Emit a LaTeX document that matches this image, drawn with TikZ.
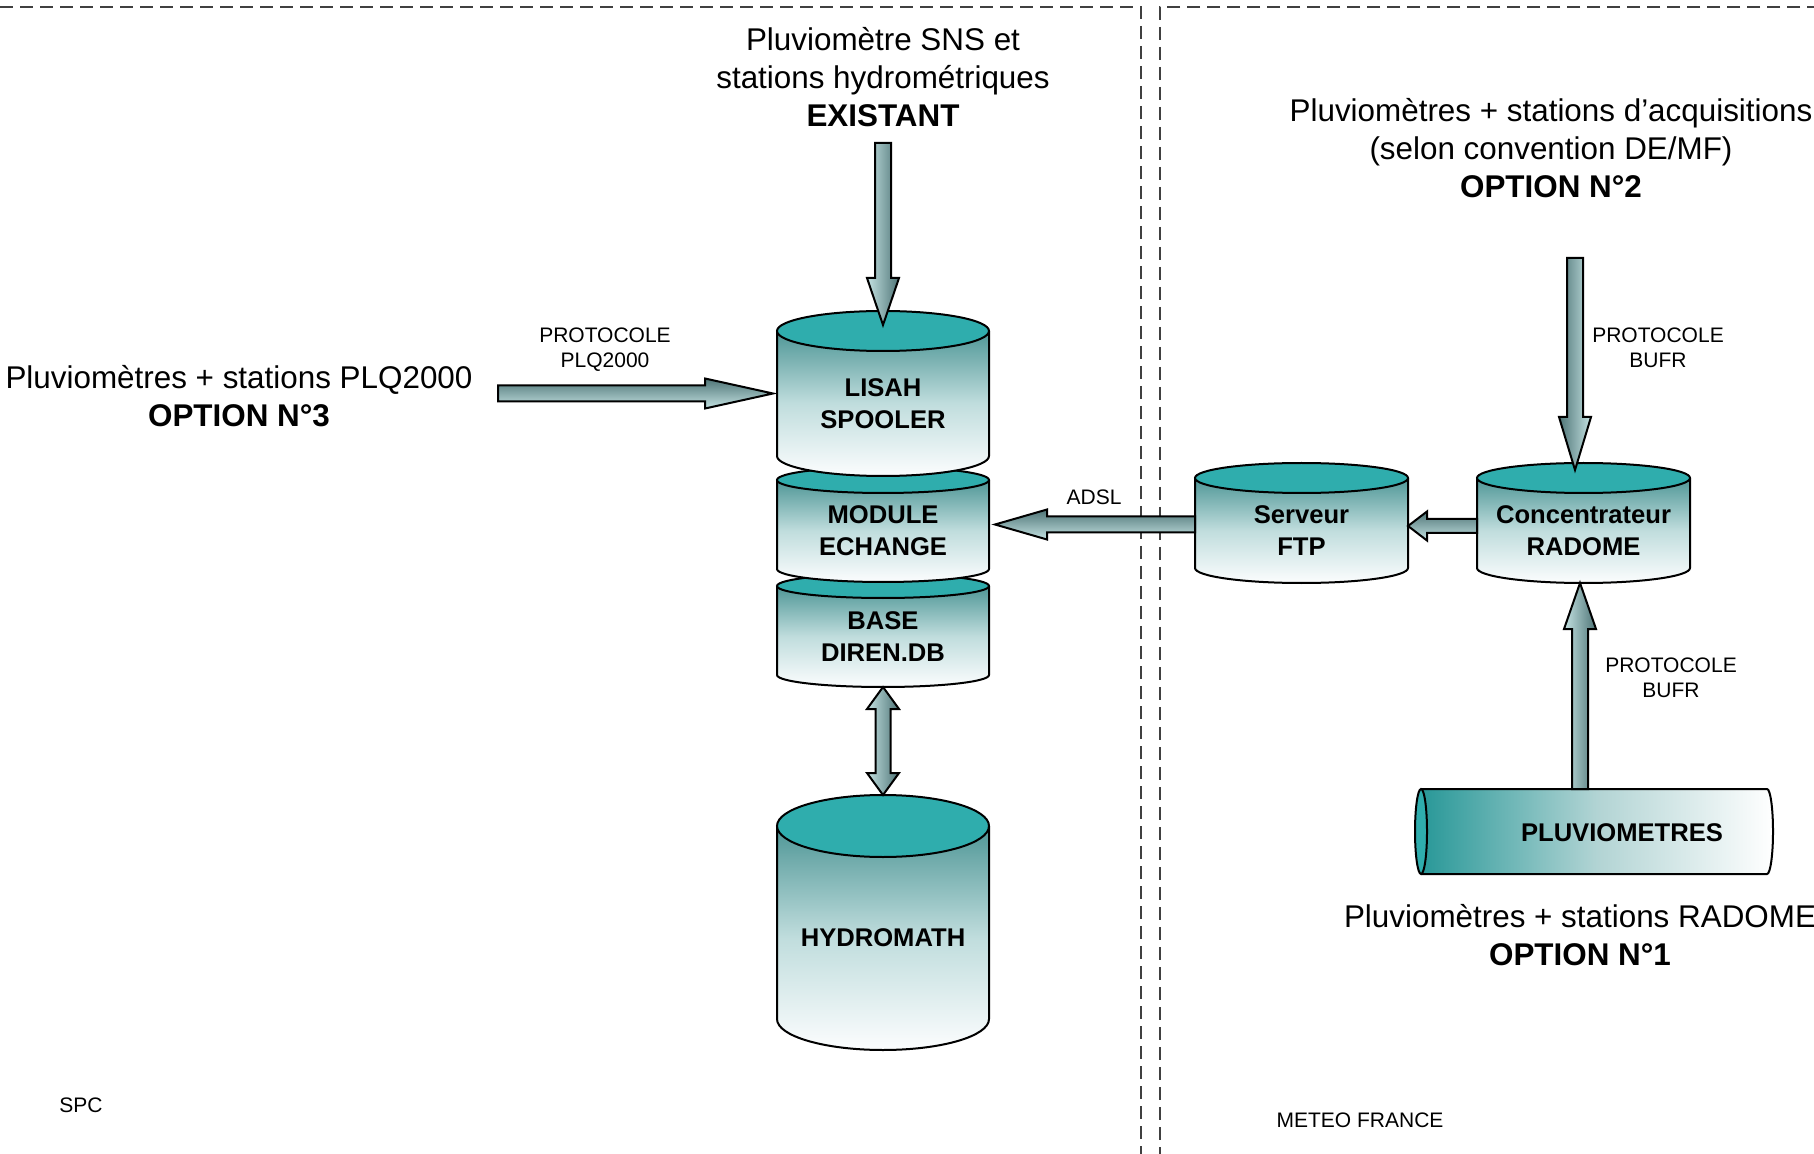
\documentclass[tikz,border=0pt]{standalone}
\usepackage{fontspec}
\setmainfont{Liberation Sans}
\usetikzlibrary{calc}
\definecolor{tealtop}{RGB}{47,173,173}
\definecolor{sidetop}{RGB}{78,150,150}
\definecolor{sidemid}{RGB}{192,221,221}
\definecolor{sidebot}{RGB}{252,253,254}
\definecolor{pluvL}{RGB}{40,152,152}
\definecolor{pluvM}{RGB}{178,212,212}
\definecolor{arrlight}{RGB}{196,226,226}
\definecolor{arrdark}{RGB}{78,116,118}
\definecolor{framegray}{RGB}{64,64,64}
\tikzset{
  cylline/.style={draw=black, line width=1pt},
  cylside/.style={top color=sidetop, bottom color=sidebot, middle color=sidemid},
  cyltext/.style={font=\fontsize{12.8}{16}\selectfont\bfseries, align=center, inner sep=0pt},
  bigtext/.style={font=\fontsize{15.7}{19}\selectfont, align=center, inner sep=0pt},
  smalltext/.style={font=\fontsize{10.5}{12.5}\selectfont, align=center, inner sep=0pt},
  barrow/.style={draw=black, line width=1pt, line join=miter},
  shadeLR/.style={left color=arrlight, right color=arrdark},
  shadeRL/.style={left color=arrdark, right color=arrlight},
  shadeTB/.style={top color=arrdark, bottom color=arrlight},
  frameline/.style={draw=framegray, line width=1.1pt, dash pattern=on 6.3pt off 3.7pt},
}
% cylinder: name, cx, ytop, ybot, ry, rx, text
\newcommand\cyl[7]{%
  \fill[cylside] (#2-#6,#3) -- (#2-#6,#4) arc(180:360:#6 and #5) -- (#2+#6,#3) -- cycle;
  \draw[cylline] (#2-#6,#3) -- (#2-#6,#4) arc(180:360:#6 and #5) -- (#2+#6,#3);
  \filldraw[cylline, fill=tealtop] (#2,#3) ellipse (#6 and #5);
  \node[cyltext] (#1) at (#2,{(#3+#4)/2-#5/2}) {#7};
  \coordinate (#1-c) at (#2,#3);
  \coordinate (#1-n) at (#2,#3+#5);
  \coordinate (#1-s) at (#2,#4-#5);
  \coordinate (#1-w) at (#2-#6,{(#3+#4)/2});
  \coordinate (#1-e) at (#2+#6,{(#3+#4)/2});
}
% vertical block arrow: start, tip, signed head length, shaft half, head half, style
\newcommand\varr[6]{%
  \filldraw[barrow,#6] ($(#1)+(-#4,0)$) -- ($(#2)+(-#4,#3)$) -- ($(#2)+(-#5,#3)$) -- (#2)
    -- ($(#2)+(#5,#3)$) -- ($(#2)+(#4,#3)$) -- ($(#1)+(#4,0)$) -- cycle;}
% horizontal block arrow
\newcommand\harr[6]{%
  \filldraw[barrow,#6] ($(#1)+(0,-#4)$) -- ($(#2)+(#3,-#4)$) -- ($(#2)+(#3,-#5)$) -- (#2)
    -- ($(#2)+(#3,#5)$) -- ($(#2)+(#3,#4)$) -- ($(#1)+(0,#4)$) -- cycle;}
% vertical double arrow: top tip, bottom tip, head length, shaft half, head half, style
\newcommand\darr[6]{%
  \filldraw[barrow,#6] (#1) -- ($(#1)+(#5,-#3)$) -- ($(#1)+(#4,-#3)$) -- ($(#2)+(#4,#3)$)
    -- ($(#2)+(#5,#3)$) -- (#2) -- ($(#2)+(-#5,#3)$) -- ($(#2)+(-#4,#3)$)
    -- ($(#1)+(-#4,-#3)$) -- ($(#1)+(-#5,-#3)$) -- cycle;}

\begin{document}
\begin{tikzpicture}[x=0.5pt,y=0.5pt]
\useasboundingbox (0,0) rectangle (1814,-1154);
\fill[white] (0,0) rectangle (1814,-1154);

% frames
\draw[frameline] (-20,-7) -- (1141,-7) -- (1141,-1180);
\draw[frameline] (1840,-7) -- (1160,-7) -- (1160,-1180);

% cylinders (bottom-most first)
\cyl{base}{883}{-586}{-675}{12}{106}{BASE\\DIREN.DB}
\cyl{module}{883}{-480}{-569}{13}{106}{MODULE\\ECHANGE}
\cyl{lisah}{883}{-331}{-456}{20}{106}{LISAH\\SPOOLER}
\cyl{hydro}{883}{-826}{-1019}{31}{106}{HYDROMATH}
\cyl{ftp}{1301.5}{-478}{-568}{15}{106.5}{Serveur\\FTP}
\cyl{radome}{1583.5}{-478}{-568}{15}{106.5}{Concentrateur\\RADOME}

% horizontal cylinder
\fill[left color=pluvL, right color=white, middle color=pluvM] (1421,-789) -- (1767,-789) arc(90:-90:6 and 42.5) -- (1421,-874) -- cycle;
\draw[cylline] (1421,-789) -- (1767,-789) arc(90:-90:6 and 42.5) -- (1421,-874);
\filldraw[cylline, fill=tealtop] (1421,-831.5) ellipse (6 and 42.5);
\node[cyltext] (pluvio) at (1622,-833) {PLUVIOMETRES};
\coordinate (pluvio-n) at (1580,-789);

% texts
\node[bigtext] (existant) at (883,-77) {Pluviomètre SNS et\\stations hydrométriques\\\textbf{EXISTANT}};
\node[bigtext] (opt3) at (239,-396) {Pluviomètres + stations PLQ2000\\\textbf{OPTION N°3}};
\node[bigtext] (opt2) at (1551,-148) {Pluviomètres + stations d’acquisitions\\(selon convention DE/MF)\\\textbf{OPTION N°2}};
\node[bigtext] (opt1) at (1580,-935) {Pluviomètres + stations RADOME\\\textbf{OPTION N°1}};
\node[smalltext] (lplq) at (605,-350) {PROTOCOLE\\PLQ2000};
\node[smalltext] (ladsl) at (1094,-497) {ADSL};
\node[smalltext] (lbufr1) at (1658,-348) {PROTOCOLE\\BUFR};
\node[smalltext] (lbufr2) at (1671,-678) {PROTOCOLE\\BUFR};
\node[smalltext] (spc) at (81,-1105) {SPC};
\node[smalltext] (mf) at (1360,-1120) {METEO FRANCE};

% arrows
\coordinate (a1t) at ($(lisah-c)+(0,6)$);
\coordinate (a1s) at ($(a1t)+(0,182)$);
\varr{a1s}{a1t}{47}{8}{16}{shadeLR}

\coordinate (a2t) at ($(lisah-w)+(-4,0)$);
\coordinate (a2s) at ($(a2t)+(-275,0)$);
\harr{a2s}{a2t}{-68}{8}{15}{shadeTB}

\coordinate (a3t) at ($(module-e)+(6,0)$);
\coordinate (a3s) at (ftp-w |- a3t);
\harr{a3s}{a3t}{52}{8}{15}{shadeTB}

\coordinate (a4s) at ($(radome-w)+(0,-3)$);
\coordinate (a4t) at (ftp-e |- a4s);
\harr{a4s}{a4t}{19}{7}{14.5}{shadeTB}

\coordinate (a5t) at ($(radome-c)+(-8.5,8)$);
\coordinate (a5s) at ($(a5t)+(0,212)$);
\varr{a5s}{a5t}{53}{8}{16}{shadeRL}

\coordinate (a6t) at (pluvio-n |- radome-s);
\varr{pluvio-n}{a6t}{-46}{8}{16}{shadeLR}

\darr{base-s}{hydro-n}{22}{7.5}{16}{shadeLR}
\end{tikzpicture}
\end{document}
